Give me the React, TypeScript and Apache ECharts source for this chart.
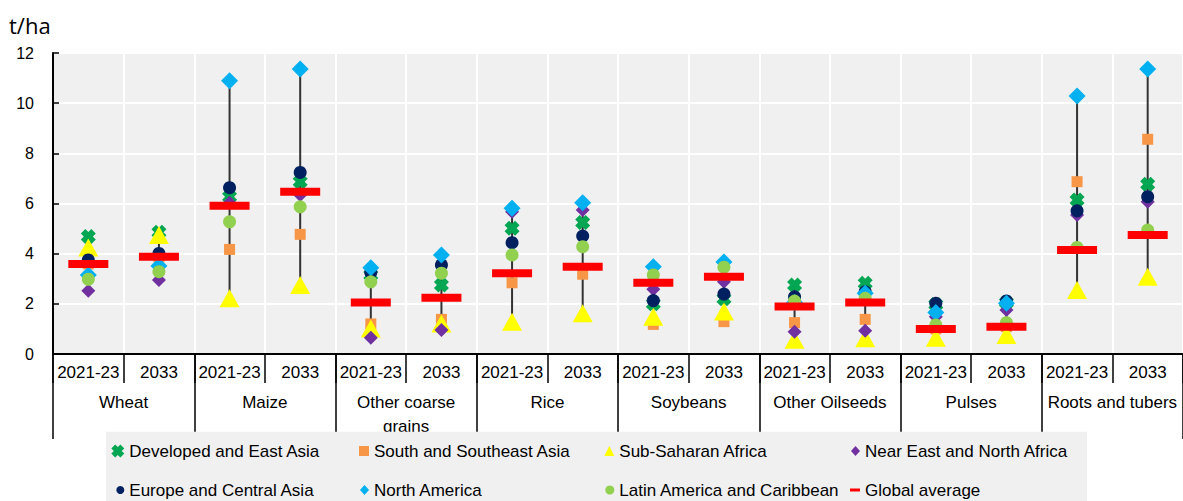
import React, { useEffect, useRef } from "react";
import * as echarts from "echarts";

const PERIODS = [
  "2021-23", "2033", "2021-23", "2033", "2021-23", "2033", "2021-23", "2033",
  "2021-23", "2033", "2021-23", "2033", "2021-23", "2033", "2021-23", "2033",
];
const CROPS = [
  "Wheat", "Maize", "Other coarse\ngrains", "Rice", "Soybeans",
  "Other Oilseeds", "Pulses", "Roots and tubers",
];
const Y_TICKS = [0, 2, 4, 6, 8, 10, 12];

const developedEastAsia = [4.68, 4.85, 6.27, 6.87, 3.15, 2.75, 5.01, 5.24, 2.0, 2.2, 2.75, 2.82, 1.97, 2.05, 6.14, 6.77];
const southSoutheastAsia = [3.59, 3.88, 4.17, 4.77, 1.2, 1.38, 2.84, 3.18, 1.18, 1.29, 1.25, 1.38, 1.0, 1.09, 6.87, 8.56];
const subSaharanAfrica = [4.25, 4.74, 2.22, 2.75, 1.02, 1.22, 1.29, 1.62, 1.49, 1.69, 0.57, 0.63, 0.65, 0.76, 2.55, 3.08];
const nearEastNorthAfrica = [2.52, 2.95, 6.03, 6.34, 0.65, 0.96, 5.67, 5.74, 2.58, 2.88, 0.89, 0.93, 1.49, 1.75, 5.54, 6.07];
const europeCentralAsia = [3.75, 4.01, 6.63, 7.24, 3.25, 3.55, 4.44, 4.7, 2.13, 2.39, 2.28, 2.48, 2.02, 2.11, 5.71, 6.27];
const northAmerica = [3.15, 3.51, 10.89, 11.36, 3.44, 3.95, 5.81, 6.03, 3.48, 3.67, 2.05, 2.42, 1.65, 2.02, 10.29, 11.36];
const latinAmericaCaribbean = [2.98, 3.28, 5.27, 5.87, 2.88, 3.22, 3.95, 4.28, 3.15, 3.46, 2.11, 2.22, 1.16, 1.25, 4.25, 4.94];
const globalAverage = [3.59, 3.88, 5.91, 6.47, 2.05, 2.24, 3.22, 3.48, 2.84, 3.08, 1.89, 2.05, 1.0, 1.09, 4.15, 4.74];

const X_PATH = "path://M0,3 L3,0 L5,2 L7,0 L10,3 L8,5 L10,7 L7,10 L5,8 L3,10 L0,7 L2,5 Z";
const FONT = "'Liberation Sans', Arial, sans-serif";

const SERIES = [
  { name: "Developed and East Asia", data: developedEastAsia, symbol: X_PATH, size: 15, color: "#00A651",
    leg: { textX: 129.3, row: 0, w: 13, h: 13 } },
  { name: "South and Southeast Asia", data: southSoutheastAsia, symbol: "rect", size: 11, color: "#F79646",
    leg: { textX: 374, row: 0, w: 10, h: 10 } },
  { name: "Sub-Saharan Africa", data: subSaharanAfrica, symbol: "triangle", size: [20, 18], color: "#FFFF00",
    leg: { textX: 619.3, row: 0, w: 10, h: 10 } },
  { name: "Near East and North Africa", data: nearEastNorthAfrica, symbol: "diamond", size: 14, color: "#7030A0",
    leg: { textX: 865, row: 0, w: 9, h: 10 } },
  { name: "Europe and Central Asia", data: europeCentralAsia, symbol: "circle", size: 13, color: "#002060",
    leg: { textX: 129.3, row: 1, w: 8, h: 8 } },
  { name: "North America", data: northAmerica, symbol: "diamond", size: 17, color: "#00B0F0",
    leg: { textX: 374, row: 1, w: 9, h: 10 } },
  { name: "Latin America and Caribbean", data: latinAmericaCaribbean, symbol: "circle", size: 13, color: "#92D050",
    leg: { textX: 619.3, row: 1, w: 9, h: 9 } },
  { name: "Global average", data: globalAverage, symbol: "rect", size: [40, 8], color: "#FF0000",
    leg: { textX: 865, row: 1, w: 10, h: 3 } },
];

const ROW_Y = [451, 490];
const GRID_LEFT = 53;

export default function App() {
  const ref = useRef<HTMLDivElement>(null);

  useEffect(() => {
    const chart = echarts.init(ref.current as HTMLDivElement, null, { renderer: "svg" });

    const ranges = PERIODS.map((_, i) => {
      const vals = SERIES.map((s) => s.data[i]);
      return [i, Math.min(...vals), Math.max(...vals)];
    });

    const legendBox = {
      type: "rect",
      id: "legendBox",
      z: 50,
      silent: true,
      shape: { x: 106, y: 431.7, width: 981, height: 80 },
      style: { fill: "#F0F0F0" },
    };

    const option: any = {
      animation: false,
      title: {
        text: "t/ha",
        left: 9,
        top: 10,
        padding: 0,
        textStyle: { fontFamily: "'Open Sans', sans-serif", fontSize: 22, fontWeight: "normal", color: "#000", lineHeight: 30 },
      },
      grid: {
        left: GRID_LEFT,
        top: 53,
        width: 1131,
        height: 301,
        show: true,
        backgroundColor: "#F0F0F0",
        borderWidth: 0,
      },
      xAxis: [
        {
          type: "category",
          data: PERIODS,
          position: "bottom",
          boundaryGap: true,
          axisLine: { show: true, onZero: false, lineStyle: { color: "#000", width: 2 } },
          axisTick: { show: true, interval: 0, length: 29, lineStyle: { color: "#000", width: 1.5 } },
          axisLabel: { interval: 0, margin: 8, fontFamily: FONT, fontSize: 17, color: "#000", lineHeight: 20 },
          splitLine: { show: false },
          z: 6,
        },
        {
          type: "category",
          data: CROPS,
          position: "bottom",
          boundaryGap: true,
          axisLine: { show: false },
          axisTick: { show: true, interval: 0, length: 85, lineStyle: { color: "#000", width: 1.5 } },
          axisLabel: { interval: 0, margin: 36, fontFamily: FONT, fontSize: 17, color: "#000", lineHeight: 24 },
          splitLine: { show: false },
          z: 6,
        },
        {
          type: "category",
          data: PERIODS,
          position: "bottom",
          boundaryGap: true,
          axisLine: { show: false },
          axisTick: { show: false },
          axisLabel: { show: false },
          splitLine: { show: true, interval: 0, lineStyle: { color: "#FFFFFF", width: 2 } },
          z: 1,
        },
      ],
      yAxis: {
        type: "value",
        position: "left",
        min: 0,
        max: 12,
        interval: 2,
        axisLine: { show: true, onZero: false, lineStyle: { color: "#000", width: 2 } },
        axisTick: { show: true, inside: true, length: 6, lineStyle: { color: "#000", width: 1.5 } },
        axisLabel: {
          margin: 19,
          fontFamily: FONT,
          fontSize: 16,
          color: "#000",
          formatter: (v: number) => (Y_TICKS.includes(v) ? String(v) : ""),
        },
        splitLine: { show: true, lineStyle: { color: "#FFFFFF", width: 2 } },
        z: 4,
      },
      legend: SERIES.map((s) => ({
        data: [{ name: s.name, icon: s.symbol }],
        left: s.leg.textX - 5 - s.leg.w,
        top: ROW_Y[s.leg.row] - 10,
        itemWidth: s.leg.w,
        itemHeight: s.leg.h,
        padding: 0,
        selectedMode: false,
        z: 60,
        textStyle: { fontFamily: FONT, fontSize: 17, color: "#000", lineHeight: 20 },
      })),
      graphic: [legendBox],
      series: [
        {
          type: "custom",
          name: "range",
          xAxisIndex: 0,
          yAxisIndex: 0,
          z: 10,
          silent: true,
          data: ranges,
          encode: { x: 0, y: [1, 2] },
          renderItem: (_params: any, api: any) => {
            const p1 = api.coord([api.value(0), api.value(1)]);
            const p2 = api.coord([api.value(0), api.value(2)]);
            return {
              type: "line",
              shape: { x1: p1[0], y1: p1[1], x2: p2[0], y2: p2[1] },
              style: { stroke: "#333333", lineWidth: 2 },
            };
          },
        },
        ...SERIES.map((s) => ({
          type: "scatter",
          name: s.name,
          xAxisIndex: 0,
          yAxisIndex: 0,
          z: 11,
          symbol: s.symbol,
          symbolSize: s.size,
          itemStyle: { color: s.color, opacity: 1 },
          emphasis: { disabled: true },
          data: s.data.map((v, i) => [i, v]),
        })),
      ],
    };

    chart.setOption(option);

    // Reinforce the vertical value-axis line, positioned from the axis scale.
    const yTop = chart.convertToPixel({ yAxisIndex: 0 }, Y_TICKS[Y_TICKS.length - 1]) as number;
    const yBottom = chart.convertToPixel({ yAxisIndex: 0 }, Y_TICKS[0]) as number;
    if (typeof yTop === "number" && typeof yBottom === "number") {
      chart.setOption({
        graphic: [
          legendBox,
          {
            type: "line",
            id: "yAxisLine",
            z: 40,
            silent: true,
            shape: { x1: GRID_LEFT, y1: yTop, x2: GRID_LEFT, y2: yBottom },
            style: { stroke: "#000", lineWidth: 2 },
          },
        ],
      });
    }

    return () => chart.dispose();
  }, []);

  return (
    <div
      ref={ref}
      style={{ position: "absolute", left: 0, top: 0, width: 1183, height: 501 }}
    />
  );
}
